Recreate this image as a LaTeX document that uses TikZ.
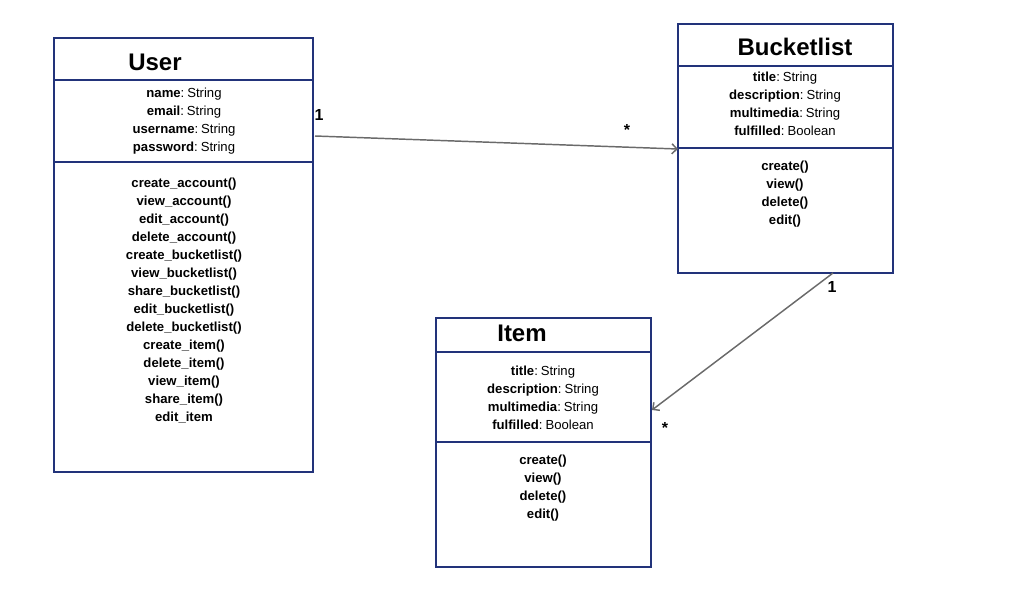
\documentclass[tikz,border=0pt]{standalone}
\usepackage{fontspec}
\setmainfont{Liberation Sans}
\usetikzlibrary{arrows.meta}
\definecolor{boxblue}{HTML}{22337A}
\definecolor{linegrey}{HTML}{6A6A6A}
\tikzset{
  umlbox/.style={draw=boxblue, line width=1.5pt},
  umlline/.style={draw=boxblue, line width=1.5pt},
  title/.style={font=\fontsize{18}{22}\selectfont\bfseries, inner sep=0pt},
  body/.style={font=\fontsize{9.85}{13.5}\selectfont, align=center, inner sep=0pt},
  assoc/.style={draw=linegrey, line width=1.1pt, -{Straight Barb[length=3.8pt,width=7.5pt]}},
  mult/.style={font=\fontsize{12}{14}\selectfont\bfseries, inner sep=0pt}
}
\newcommand{\attr}[2]{\textbf{#1}:\hspace{0.22em}#2}
\begin{document}
\begin{tikzpicture}[x=0.75pt,y=-0.75pt]
\useasboundingbox (0,0) rectangle (1032,593);
% User
\draw[umlbox] (54,38) rectangle (313,472);
\draw[umlline] (54,80) -- (313,80);
\draw[umlline] (54,162) -- (313,162);
\node[title] (usert) at (155,62) {User};
\node[body] (usera) at (184,121) {\attr{name}{String}\\\attr{email}{String}\\\attr{username}{String}\\\attr{password}{String}};
\node[body] (userm) at (184,300.5) {\textbf{create\_account()}\\\textbf{view\_account()}\\\textbf{edit\_account()}\\\textbf{delete\_account()}\\\textbf{create\_bucketlist()}\\\textbf{view\_bucketlist()}\\\textbf{share\_bucketlist()}\\\textbf{edit\_bucketlist()}\\\textbf{delete\_bucketlist()}\\\textbf{create\_item()}\\\textbf{delete\_item()}\\\textbf{view\_item()}\\\textbf{share\_item()}\\\textbf{edit\_item}};
% Bucketlist
\draw[umlbox] (678,24) rectangle (893,273);
\draw[umlline] (678,66) -- (893,66);
\draw[umlline] (678,148) -- (893,148);
\node[title] (bucktt) at (795,47) {Bucketlist};
\node[body] (bucka) at (785,104) {\attr{title}{String}\\\attr{description}{String}\\\attr{multimedia}{String}\\\attr{fulfilled}{Boolean}};
\node[body] (buckm) at (785,194.5) {\textbf{create()}\\\textbf{view()}\\\textbf{delete()}\\\textbf{edit()}};
% Item
\draw[umlbox] (436,318) rectangle (651,567);
\draw[umlline] (436,352) -- (651,352);
\draw[umlline] (436,442) -- (651,442);
\node[title] (itemt) at (522,333) {Item};
\node[body] (itema) at (543,398) {\attr{title}{String}\\\attr{description}{String}\\\attr{multimedia}{String}\\\attr{fulfilled}{Boolean}};
\node[body] (itemm) at (543,488.5) {\textbf{create()}\\\textbf{view()}\\\textbf{delete()}\\\textbf{edit()}};
% connectors
\coordinate (ua) at (315,136);
\coordinate (bw) at (678,149);
\coordinate (bs) at (833,273);
\coordinate (ie) at (652,410);
\draw[assoc] (ua) -- (bw);
\draw[assoc] (bs) -- (ie);
\node[mult] (m1) at (319,115) {1};
\node[mult] (m2) at (627,130) {*};
\node[mult] (m3) at (832,287) {1};
\node[mult] (m4) at (665,428) {*};
\end{tikzpicture}
\end{document}
